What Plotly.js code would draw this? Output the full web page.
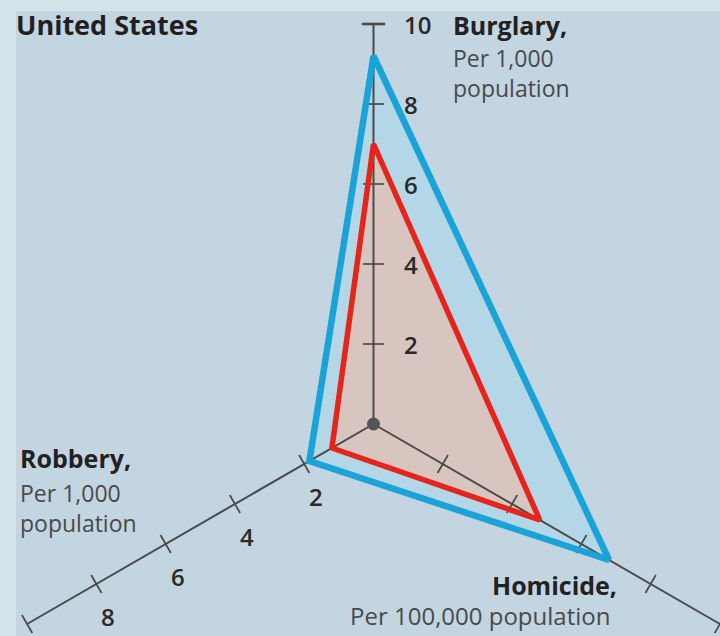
<!DOCTYPE html>
<html>
<head>
<meta charset="utf-8">
<script src="https://cdn.plot.ly/plotly-3.0.1.min.js"></script>
<style>
  html, body { margin: 0; padding: 0; background: #c2d5e0; }
  #chart { width: 720px; height: 636px; }
</style>
</head>
<body>
<div id="chart"></div>
<script>
// ---------------- DATA ----------------
const categories = ['Burglary,', 'Homicide,', 'Robbery,'];
const categoryUnits = [['Per 1,000', 'population'], ['Per 100,000 population'], ['Per 1,000', 'population']];
const outerValues = [9.2, 6.8, 1.85];   // blue series
const innerValues = [7.0, 4.8, 1.2];    // red series
const axisTicks = [2, 4, 6, 8, 10];
const burglaryTickLabels = ['2', '4', '6', '8', '10'];
const robberyTickLabels = ['2', '4', '6', '8'];
const axisMax = 10;

// ---------------- LAYOUT CONSTANTS ----------------
const W = 720, H = 636;
const CX = 373.5, CY = 424, S = 40;       // centre pixel and pixels per unit
const axisAngles = [90, -30, 210];        // Burglary, Homicide, Robbery
const xr = [-CX / S, (W - CX) / S];
const yr = [-(H - CY) / S, CY / S];

function pol(r, deg) {
  const a = deg * Math.PI / 180;
  return [r * Math.cos(a), r * Math.sin(a)];
}
function polygon(vals, order) {
  const xs = [], ys = [];
  order.forEach(i => { const p = pol(vals[i], axisAngles[i]); xs.push(p[0]); ys.push(p[1]); });
  return { x: xs, y: ys };
}

const traces = [];
const fillOrder = [0, 1, 2];
const lineOrder = [0, 1, 2, 0, 1];
const bf = polygon(outerValues, fillOrder);
traces.push({ type: 'scatter', mode: 'lines', x: bf.x, y: bf.y, fill: 'toself',
  fillcolor: '#b3d7e7', line: { width: 0, color: 'rgba(0,0,0,0)' }, hoverinfo: 'skip' });
const rf = polygon(innerValues, fillOrder);
traces.push({ type: 'scatter', mode: 'lines', x: rf.x, y: rf.y, fill: 'toself',
  fillcolor: '#d9c5bf', line: { width: 0, color: 'rgba(0,0,0,0)' }, hoverinfo: 'skip' });

// axes spokes
const ax = [], ay = [];
axisAngles.forEach(ang => {
  const p0 = pol(0, ang), p1 = pol(axisMax, ang);
  ax.push(p0[0], p1[0], null); ay.push(p0[1], p1[1], null);
});
traces.push({ type: 'scatter', mode: 'lines', x: ax, y: ay,
  line: { color: '#4a4a4a', width: 2 }, hoverinfo: 'skip' });

// ticks
const tx = [], ty = [];
const half = 0.26;
axisAngles.forEach((ang, k) => {
  axisTicks.forEach(v => {
    if (k === 0 && v === axisMax) return;
    const c = pol(v, ang);
    const d = pol(half, ang + 90);
    tx.push(c[0] - d[0], c[0] + d[0], null);
    ty.push(c[1] - d[1], c[1] + d[1], null);
  });
});
traces.push({ type: 'scatter', mode: 'lines', x: tx, y: ty,
  line: { color: '#4a4a4a', width: 1.7 }, hoverinfo: 'skip' });
{
  const c = pol(axisMax, axisAngles[0]);
  const d = pol(0.29, axisAngles[0] + 90);
  traces.push({ type: 'scatter', mode: 'lines', x: [c[0] - d[0], c[0] + d[0]], y: [c[1] - d[1], c[1] + d[1]],
    line: { color: '#4a4a4a', width: 2.6 }, hoverinfo: 'skip' });
}
traces.push({ type: 'scatter', mode: 'markers', x: [0], y: [0],
  marker: { color: '#555555', size: 13 }, hoverinfo: 'skip' });

const rl = polygon(innerValues, lineOrder);
traces.push({ type: 'scatter', mode: 'lines', x: rl.x, y: rl.y,
  line: { color: '#e5241b', width: 5.5 }, hoverinfo: 'skip' });
const bl = polygon(outerValues, lineOrder);
traces.push({ type: 'scatter', mode: 'lines', x: bl.x, y: bl.y,
  line: { color: '#1ba3d7', width: 6.5 }, hoverinfo: 'skip' });

// ---------------- ANNOTATIONS ----------------
const FONT = '"Open Sans", "Noto Sans", sans-serif';
// lines: array of strings; baseline = baseline of first line (px)
function ann(lines, xpx, baseline, fs, opts) {
  opts = opts || {};
  const n = lines.length;
  const lastBase = baseline + (n - 1) * 1.3 * fs;
  const centre = (baseline + lastBase) / 2 - 0.388 * fs;
  return {
    text: lines.join('<br>'), xref: 'paper', yref: 'paper',
    x: xpx / W, y: 1 - centre / H, align: opts.anchor === 'right' ? 'right' : 'left',
    xanchor: opts.anchor || 'left', yanchor: 'middle', showarrow: false,
    font: { family: FONT, size: fs, color: opts.color || '#222222', weight: opts.bold ? 700 : 400 }
  };
}
const SUB = '#4a4a4a';
const annotations = [];
annotations.push(ann(['United States'], 14, 35, 27, { bold: true, color: '#231f20' }));
annotations.push(ann([categories[0]], 451, 35, 25, { bold: true }));
annotations.push(ann(categoryUnits[0], 451, 67, 23, { color: SUB }));
annotations.push(ann([categories[2]], 18, 468, 25, { bold: true }));
annotations.push(ann(categoryUnits[2], 18, 502, 23, { color: SUB }));
annotations.push(ann([categories[1]], 619, 595, 25, { bold: true, anchor: 'right' }));
annotations.push(ann(categoryUnits[1], 612, 625, 24, { color: SUB, anchor: 'right' }));

burglaryTickLabels.forEach((t, i) => {
  const c = pol(axisTicks[i], axisAngles[0]);
  annotations.push({ text: t, xref: 'x', yref: 'y', x: c[0] + 0.7, y: c[1],
    xanchor: 'left', yanchor: 'middle', showarrow: false,
    font: { family: FONT, size: 24, color: '#2a2a2a', weight: 600 } });
});
robberyTickLabels.forEach((t, i) => {
  const c = pol(axisTicks[i], axisAngles[2]);
  annotations.push({ text: t, xref: 'x', yref: 'y', x: c[0] + 0.3, y: c[1] - 0.8,
    xanchor: 'center', yanchor: 'middle', showarrow: false,
    font: { family: FONT, size: 24, color: '#2a2a2a', weight: 600 } });
});

const layout = {
  width: W, height: H,
  margin: { l: 0, r: 0, t: 0, b: 0, pad: 0 },
  paper_bgcolor: '#c2d5e0', plot_bgcolor: '#c2d5e0',
  showlegend: false,
  xaxis: { range: xr, visible: false, fixedrange: true },
  yaxis: { range: yr, visible: false, fixedrange: true },
  shapes: [
    { type: 'rect', xref: 'paper', yref: 'paper', x0: 0, x1: 1, y0: 1 - 11 / H, y1: 1,
      fillcolor: '#d4e2e9', line: { width: 0 }, layer: 'below' },
    { type: 'rect', xref: 'paper', yref: 'paper', x0: 0, x1: 16 / W, y0: 0, y1: 1,
      fillcolor: '#d4e2e9', line: { width: 0 }, layer: 'below' }
  ],
  annotations: annotations
};

Plotly.newPlot('chart', traces, layout, { staticPlot: true, displayModeBar: false });
</script>
</body>
</html>
